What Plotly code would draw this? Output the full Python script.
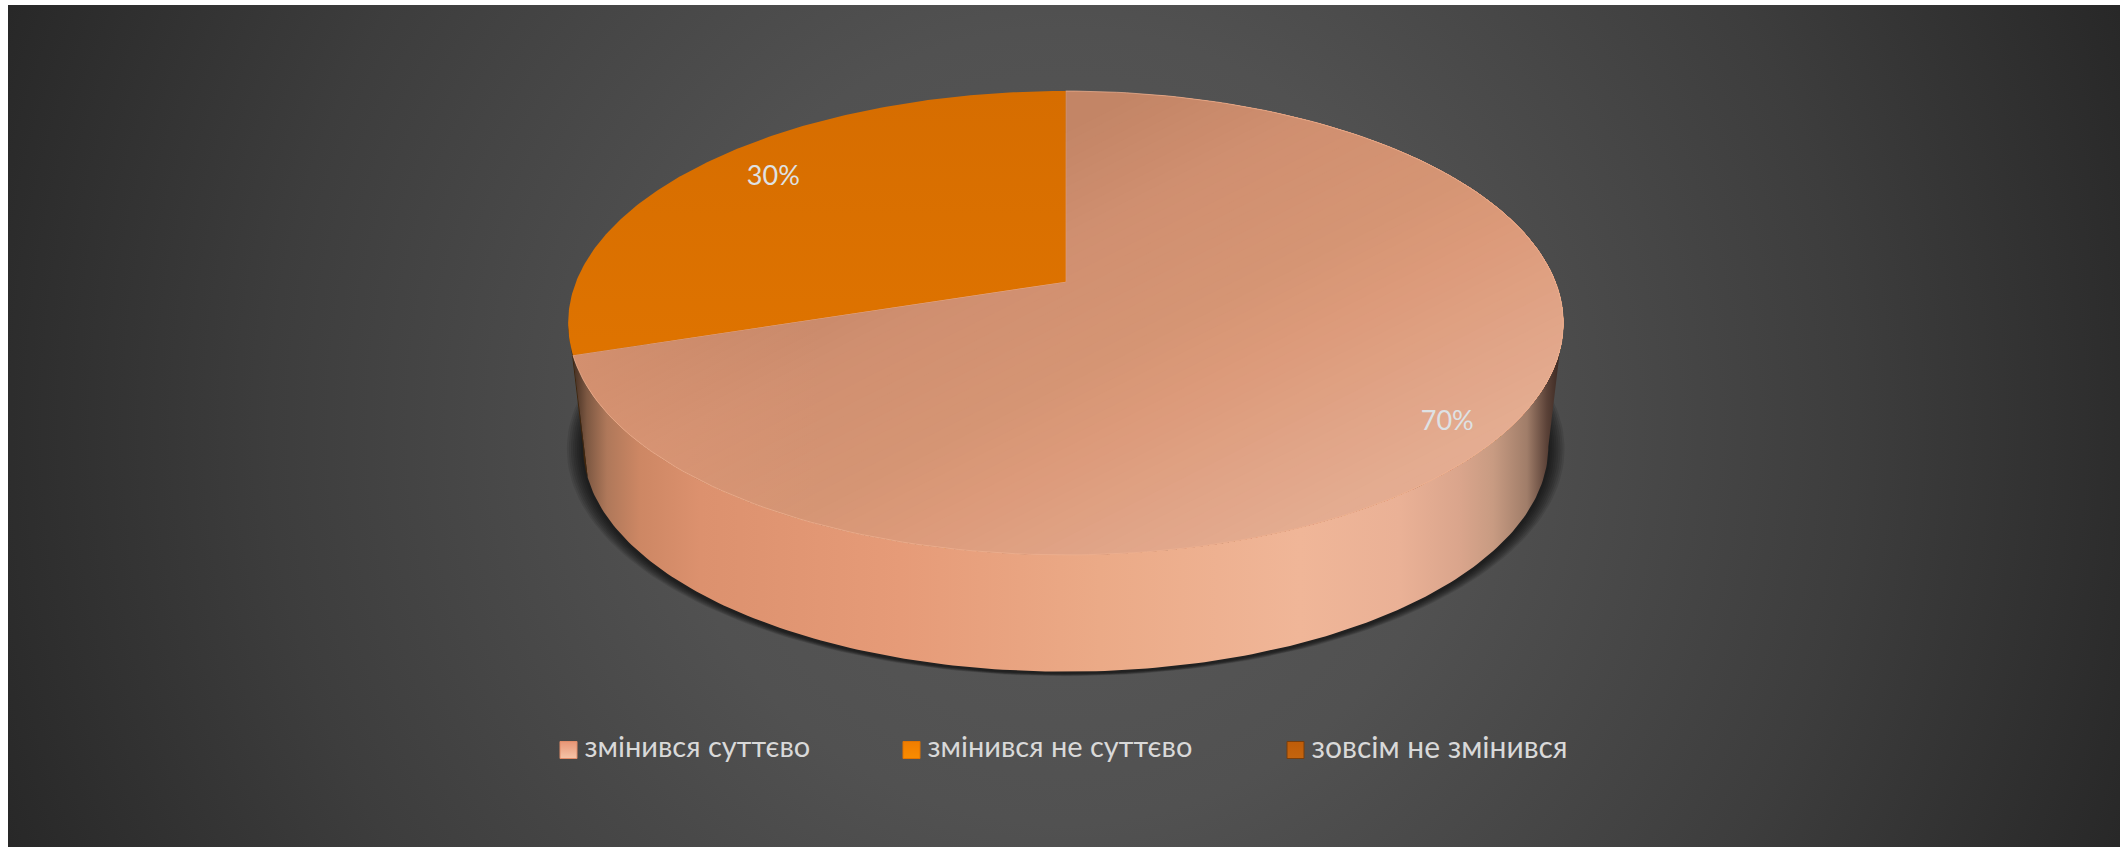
import base64
import math
import plotly.graph_objects as go

# ---- data ----
categories = ["змінився суттєво", "змінився не суттєво", "зовсім не змінився"]
shares = [70, 30, 0]

# ---- style and geometry of the tilted disc (pixels of the 2120x847 page) ----
W, H = 2120, 847
CX, TOP_CY, TOP_RX, TOP_RY, PERSP = 1065.7, 281.7, 489.6, 224.6, 0.178
BOTTOM_CY, BOTTOM_SCALE = 406.6, 0.97
LABEL_R = [0.875, 0.80]
LABEL_DY = [14, -6]
LEGEND_KEY_X = [568.5, 911.5, 1295.5]
LEGEND_Y = 750
LEGEND_SIZE = [29, 29, 30]
FONT = "Lato, 'Open Sans', sans-serif"
TEXT = "rgb(217,217,217)"
KEY_TOP = ["rgb(232,150,118)", "rgb(240,125,0)", "rgb(190,92,8)"]
KEY_BOT = ["rgb(246,196,168)", "rgb(250,140,0)", "rgb(196,100,14)"]
KEY_LINE = ["rgb(225,140,105)", "rgb(225,115,0)", "rgb(120,62,12)"]
ORANGE_GRAD = ("rgb(214,109,0)", "rgb(229,120,0)")
SHADE_DIR = (0.45, 0.89)
SHADE_STOPS = [(590, (195, 133, 102)), (690, (208, 143, 112)), (810, (213, 149, 116)),
               (880, (220, 154, 122)), (1050, (228, 172, 145))]
WALL_STOPS = [(568, "rgb(50,35,28)"), (575, "rgb(75,52,38)"), (587, "rgb(125,88,66)"), (607, "rgb(175,120,90)"),
              (640, "rgb(205,135,100)"), (700, "rgb(220,145,110)"), (900, "rgb(230,155,120)"),
              (1100, "rgb(235,170,135)"), (1300, "rgb(240,182,152)"), (1400, "rgb(234,177,150)"),
              (1460, "rgb(218,165,140)"), (1493, "rgb(200,155,130)"), (1527, "rgb(160,125,105)"),
              (1547, "rgb(90,65,55)"), (1563, "rgb(50,35,30)")]


def project(theta, r=1.0, bottom=False):
    u, v = r * math.sin(theta), r * math.cos(theta)
    d = 1 + PERSP * v
    s, cy = (BOTTOM_SCALE, BOTTOM_CY) if bottom else (1.0, TOP_CY)
    return CX + s * TOP_RX * u / d, cy - s * TOP_RY * v / d


def arc(a, b, bottom=False, n=180):
    pts = [project(a + (b - a) * i / n, 1.0, bottom) for i in range(n + 1)]
    return [p[0] for p in pts], [p[1] for p in pts]


def clip_from(poly, level):
    """Part of a polygon on the far side of an isoline of the shading direction."""
    out = []
    dist = [p[0] * SHADE_DIR[0] + p[1] * SHADE_DIR[1] - level for p in poly]
    for i, p in enumerate(poly):
        q, dp, dq = poly[(i + 1) % len(poly)], dist[i], dist[(i + 1) % len(poly)]
        if dp >= 0:
            out.append(p)
        if (dp >= 0) != (dq >= 0):
            t = dp / (dp - dq)
            out.append((p[0] + (q[0] - p[0]) * t, p[1] + (q[1] - p[1]) * t))
    return out


def shade(level):
    stops = SHADE_STOPS
    if level <= stops[0][0]:
        return stops[0][1]
    for (d0, c0), (d1, c1) in zip(stops, stops[1:]):
        if level <= d1:
            t = (level - d0) / (d1 - d0)
            return tuple(c0[k] + (c1[k] - c0[k]) * t for k in range(3))
    return stops[-1][1]


bg_svg = f"""<svg xmlns='http://www.w3.org/2000/svg' width='{W}' height='{H}'>
<defs><radialGradient id='g' gradientUnits='userSpaceOnUse' cx='1064' cy='426' r='1134'>
<stop offset='0' stop-color='#595959'/><stop offset='0.35' stop-color='#515151'/>
<stop offset='0.7' stop-color='#3d3d3d'/><stop offset='1' stop-color='#282828'/></radialGradient></defs>
<rect x='8' y='5' width='{W}' height='{H}' fill='url(#g)'/></svg>"""

fig = go.Figure()

# soft shadow under the disc
for i in range(1, 9):
    grow = 1 + i * 0.0042
    pts = [project(2 * math.pi * k / 240, 1.0, True) for k in range(241)]
    xs = [CX + (p[0] - CX) * grow for p in pts]
    ys = [BOTTOM_CY + 2 + (p[1] - BOTTOM_CY) * (1 + i * 0.0012) for p in pts]
    fig.add_trace(go.Scatter(x=xs, y=ys, mode="lines", fill="toself", line=dict(width=0),
                             fillcolor="rgba(0,0,0,0.10)", hoverinfo="skip", showlegend=False))

# slices: side wall then top face
front_a = math.acos(-PERSP)
front_b = 2 * math.pi - front_a
start = 0.0
total = sum(shares)
angles = []
for val in shares:
    end = start + 2 * math.pi * val / total
    angles.append((start, end))
    start = end

wall_scale = [[(x - WALL_STOPS[0][0]) / (WALL_STOPS[-1][0] - WALL_STOPS[0][0]), c] for x, c in WALL_STOPS]
for idx, (a, b) in enumerate(angles):
    lo, hi = max(a, front_a), min(b, front_b)
    if hi <= lo:
        continue
    tx, ty = arc(lo, hi)
    bx, by = arc(lo, hi, True)
    grad = dict(type="horizontal", colorscale=wall_scale, start=WALL_STOPS[0][0], stop=WALL_STOPS[-1][0])
    if idx == 1:
        grad = dict(type="horizontal", colorscale=[[0, "rgb(60,34,10)"], [1, "rgb(70,40,12)"]], start=560, stop=600)
    fig.add_trace(go.Scatter(x=tx + bx[::-1], y=ty + by[::-1], mode="lines", fill="toself", line=dict(width=0),
                             fillgradient=grad, hoverinfo="skip", showlegend=False))

for idx, (a, b) in enumerate(angles):
    if b <= a:
        continue
    ax, ay = arc(a, b)
    xs, ys = [CX] + ax + [CX], [TOP_CY] + ay + [TOP_CY]
    if idx == 1:
        fig.add_trace(go.Scatter(x=xs, y=ys, mode="lines", fill="toself", line=dict(width=0),
                                 fillgradient=dict(type="vertical",
                                                   colorscale=[[0, ORANGE_GRAD[0]], [1, ORANGE_GRAD[1]]],
                                                   start=91, stop=555),
                                 hoverinfo="skip", showlegend=False))
        continue
    # main slice: diagonal shading as stacked layers, each clipped to the slice
    poly = list(zip(xs[:-1], ys[:-1]))
    level = SHADE_STOPS[0][0]
    layer = poly
    while layer:
        r, g, b_ = shade(level)
        fig.add_trace(go.Scatter(x=[p[0] for p in layer] + [layer[0][0]], y=[p[1] for p in layer] + [layer[0][1]],
                                 mode="lines", fill="toself", line=dict(width=0),
                                 fillcolor=f"rgb({r:.0f},{g:.0f},{b_:.0f})", hoverinfo="skip", showlegend=False))
        level += 8
        layer = clip_from(poly, level)
    # warmer lift towards the far left of the slice
    fig.add_trace(go.Scatter(x=xs, y=ys, mode="lines", fill="toself", line=dict(width=0),
                             fillgradient=dict(type="horizontal",
                                               colorscale=[[0, "rgba(228,155,120,0.5)"], [1, "rgba(228,155,120,0)"]],
                                               start=570, stop=820),
                             hoverinfo="skip", showlegend=False))
    # light rim along the slice edge
    fig.add_trace(go.Scatter(x=xs, y=ys, mode="lines", line=dict(width=1, color="rgba(240,178,145,0.7)"),
                             hoverinfo="skip", showlegend=False))

# percentage labels
for idx, (a, b) in enumerate(angles):
    if b <= a:
        continue
    lx, ly = project((a + b) / 2, LABEL_R[idx])
    fig.add_trace(go.Scatter(x=[lx], y=[ly + LABEL_DY[idx]], mode="text", text=[f"{shares[idx]}%"],
                             textposition="middle center",
                             textfont=dict(family=FONT, size=27, color="rgb(222,226,228)"),
                             hoverinfo="skip", showlegend=False))

# legend row
for idx, name in enumerate(categories):
    fig.add_trace(go.Scatter(x=[LEGEND_KEY_X[idx]], y=[LEGEND_Y], mode="markers", name=name,
                             marker=dict(symbol="square", size=17, color=KEY_TOP[idx],
                                         gradient=dict(type="vertical", color=KEY_BOT[idx]),
                                         line=dict(width=1, color=KEY_LINE[idx])),
                             hoverinfo="skip", showlegend=False))
    fig.add_trace(go.Scatter(x=[LEGEND_KEY_X[idx] + 16], y=[LEGEND_Y], mode="text", text=[name],
                             textposition="middle right",
                             textfont=dict(family=FONT, size=LEGEND_SIZE[idx], color=TEXT),
                             hoverinfo="skip", showlegend=False))

fig.update_layout(
    width=W, height=H, margin=dict(l=0, r=0, t=0, b=0), paper_bgcolor="white", plot_bgcolor="rgba(0,0,0,0)",
    showlegend=False,
    xaxis=dict(range=[0, W], visible=False, fixedrange=True),
    yaxis=dict(range=[H, 0], visible=False, fixedrange=True),
    images=[dict(source="data:image/svg+xml;base64," + base64.b64encode(bg_svg.encode()).decode(),
                 xref="paper", yref="paper", x=0, y=1, sizex=1, sizey=1, sizing="stretch",
                 xanchor="left", yanchor="top", layer="below")],
)
fig.write_html("out.html", post_script="document.body.style.margin='0';", config={"displayModeBar": False})
